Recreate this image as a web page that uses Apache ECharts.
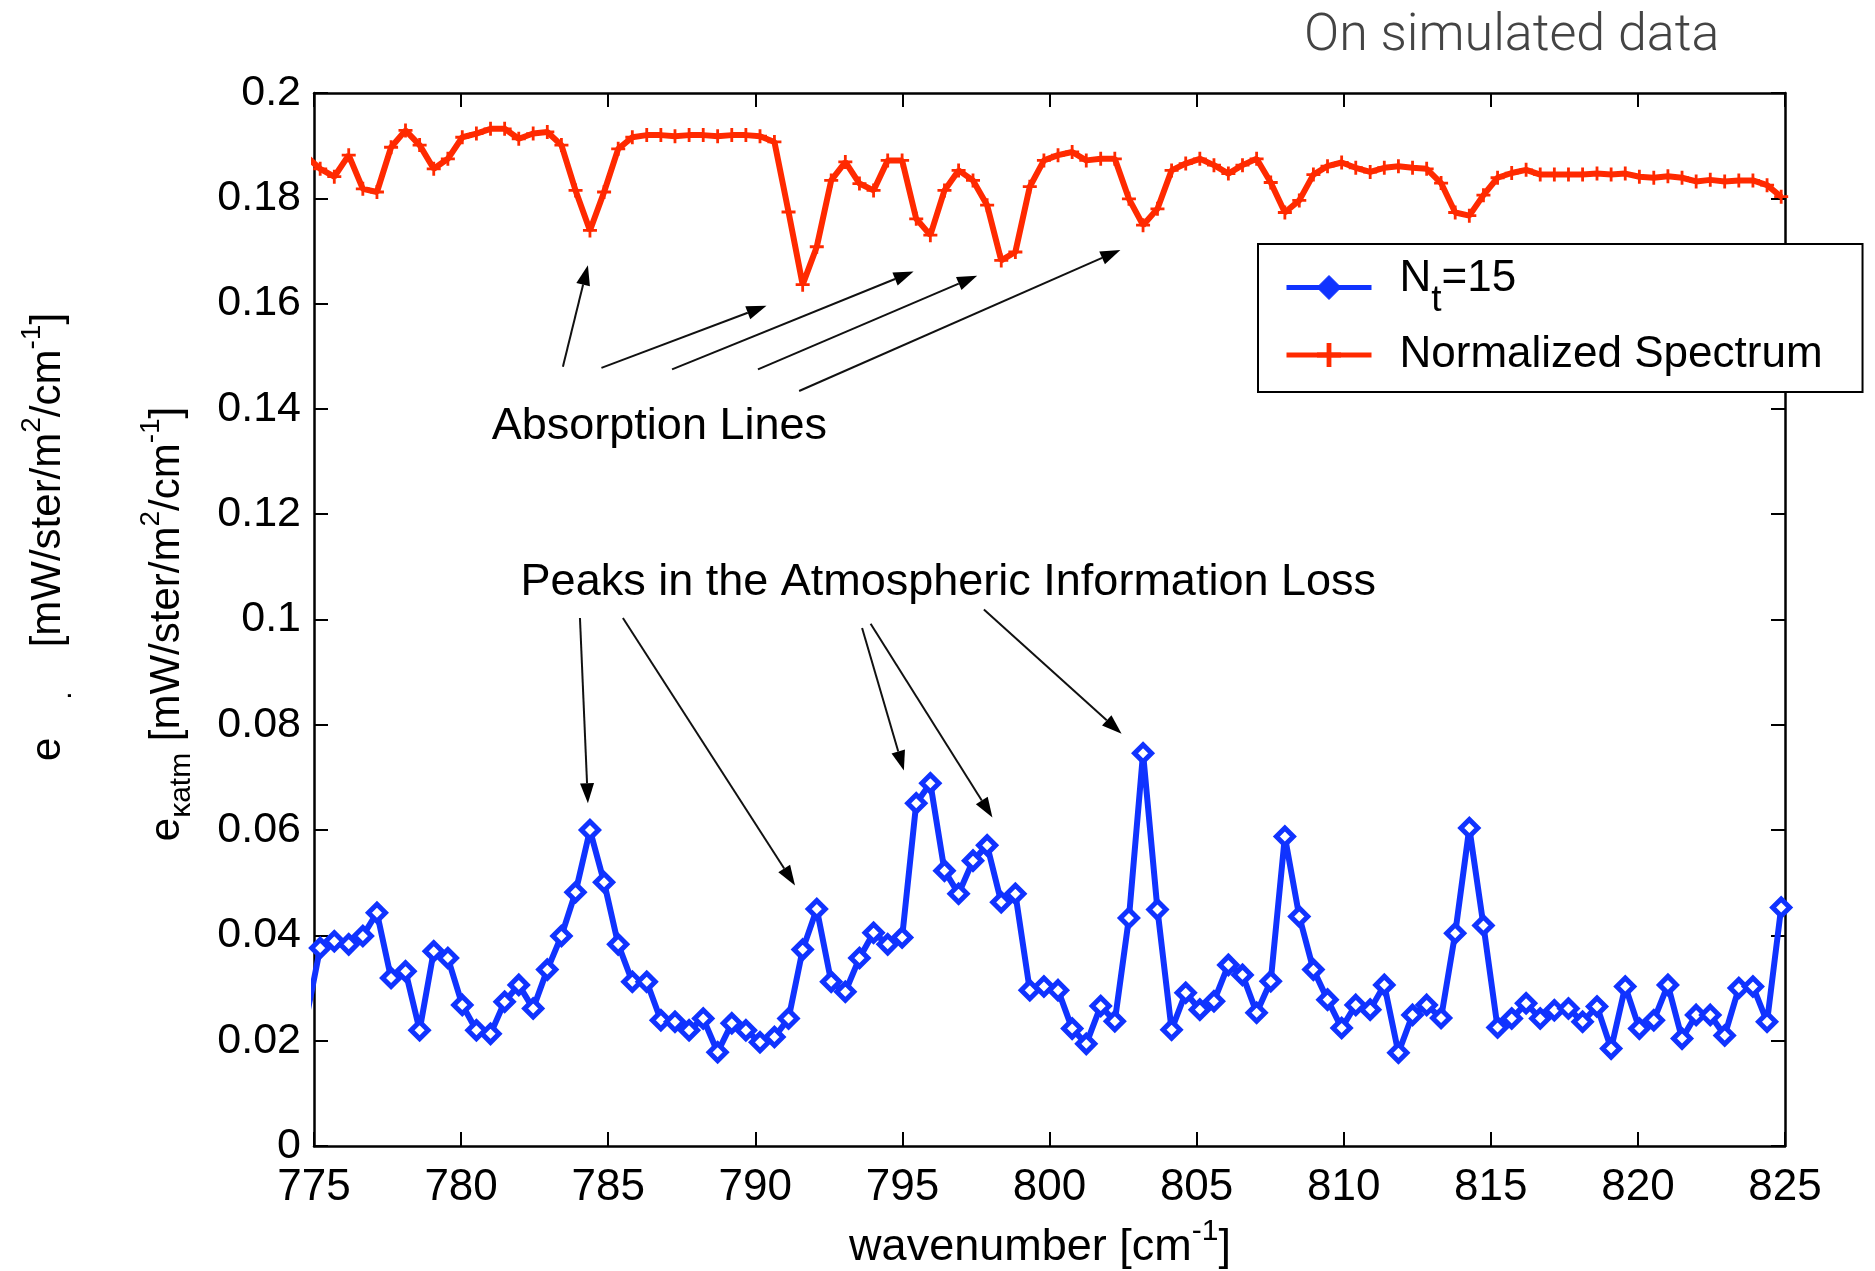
<!DOCTYPE html>
<html><head><meta charset="utf-8">
<script src="https://cdn.jsdelivr.net/npm/echarts@6/dist/echarts.min.js"></script>
<style>html,body{margin:0;padding:0;background:#fff}#c{width:1875px;height:1271px}</style>
</head><body><div id="c"></div>
<script>
// ---------- data ----------
const wavenumber = [
774.73,775.21,775.69,776.18,776.66,777.14,777.62,778.11,778.59,779.07,
779.55,780.04,780.52,781.00,781.48,781.96,782.45,782.93,783.41,783.89,
784.38,784.86,785.34,785.82,786.31,786.79,787.27,787.75,788.23,788.72,
789.20,789.68,790.16,790.65,791.13,791.61,792.09,792.58,793.06,793.54,
794.02,794.50,794.99,795.47,795.95,796.43,796.91,797.40,797.88,798.36,
798.84,799.33,799.81,800.29,800.77,801.25,801.74,802.22,802.70,803.18,
803.67,804.15,804.63,805.11,805.59,806.08,806.56,807.04,807.52,808.00,
808.49,808.97,809.45,809.93,810.41,810.90,811.38,811.86,812.34,812.82,
813.31,813.79,814.27,814.75,815.23,815.71,816.20,816.68,817.16,817.64,
818.12,818.61,819.09,819.57,820.05,820.54,821.02,821.50,821.98,822.46,
822.95,823.43,823.91,824.39,824.87];

const infoLossNt15 = [
0.0240,0.0376,0.0389,0.0383,0.0399,0.0443,0.0319,0.0332,0.0220,0.0370,
0.0357,0.0268,0.0220,0.0213,0.0274,0.0306,0.0261,0.0335,0.0399,0.0482,
0.0600,0.0501,0.0383,0.0312,0.0312,0.0239,0.0236,0.0220,0.0242,0.0178,
0.0233,0.0220,0.0197,0.0207,0.0242,0.0373,0.0450,0.0312,0.0293,0.0357,
0.0405,0.0383,0.0396,0.0651,0.0689,0.0523,0.0479,0.0542,0.0571,0.0463,
0.0479,0.0296,0.0303,0.0296,0.0223,0.0194,0.0266,0.0237,0.0433,0.0746,
0.0449,0.0221,0.0291,0.0259,0.0275,0.0344,0.0325,0.0253,0.0313,0.0588,
0.0436,0.0335,0.0278,0.0224,0.0268,0.0259,0.0306,0.0177,0.0249,0.0268,
0.0243,0.0404,0.0604,0.0419,0.0225,0.0242,0.0271,0.0242,0.0258,0.0261,
0.0236,0.0265,0.0185,0.0303,0.0223,0.0239,0.0306,0.0204,0.0249,0.0249,
0.0210,0.0300,0.0303,0.0236,0.0453];

const normalizedSpectrum = [
0.1880,0.1856,0.1841,0.1882,0.1818,0.1812,0.1897,0.1929,0.1901,0.1856,
0.1875,0.1916,0.1923,0.1932,0.1932,0.1913,0.1923,0.1926,0.1901,0.1815,
0.1739,0.1812,0.1894,0.1916,0.1920,0.1920,0.1918,0.1920,0.1920,0.1918,
0.1920,0.1920,0.1918,0.1907,0.1774,0.1636,0.1708,0.1834,0.1869,0.1828,
0.1815,0.1872,0.1872,0.1761,0.1730,0.1815,0.1853,0.1834,0.1787,0.1682,
0.1698,0.1822,0.1872,0.1882,0.1888,0.1872,0.1875,0.1875,0.1799,0.1749,
0.1780,0.1853,0.1866,0.1875,0.1863,0.1847,0.1863,0.1875,0.1830,0.1773,
0.1796,0.1845,0.1861,0.1868,0.1858,0.1850,0.1858,0.1861,0.1858,0.1856,
0.1829,0.1773,0.1767,0.1806,0.1839,0.1848,0.1854,0.1845,0.1845,0.1845,
0.1845,0.1847,0.1845,0.1847,0.1841,0.1839,0.1842,0.1839,0.1832,0.1835,
0.1832,0.1834,0.1834,0.1825,0.1803];

const seriesNames = ['N_t=15', 'Normalized Spectrum'];

// annotation arrows in data coordinates: [from, to]
const absorptionArrows = [
  [[783.46,0.1480],[784.31,0.1673]],
  [[784.77,0.1478],[790.38,0.1596]],
  [[787.17,0.1475],[795.38,0.1661]],
  [[790.09,0.1475],[797.54,0.1653]],
  [[791.49,0.1434],[802.41,0.1702]]
];
const peakArrows = [
  [[784.04,0.1003],[784.31,0.0651]],
  [[785.50,0.1003],[791.35,0.0495]],
  [[793.63,0.0984],[795.05,0.0713]],
  [[793.92,0.0992],[798.06,0.0624]],
  [[797.77,0.1019],[802.45,0.0783]]
];
const annotationLabels = [
  {text:'Absorption Lines', at:[786.74,0.1366]},
  {text:'Peaks in the Atmospheric Information Loss', at:[796.56,0.1071]}
];

// ---------- chart ----------
const F = 'Liberation Sans';
const BLUE = '#1033ff', RED = '#ff2a00';
const chart = echarts.init(document.getElementById('c'), null, {renderer:'canvas'});

const axisCommon = {
  type:'value', axisLine:{show:true, onZero:false, lineStyle:{color:'#000', width:2.5}},
  axisTick:{show:true, inside:true, length:14, lineStyle:{color:'#000', width:2}},
  splitLine:{show:false}
};
const yFmt = v => String(Number(v.toFixed(2)));

const option = {
  animation:false,
  backgroundColor:'#fff',
  title:{text:'On simulated data', left:1299, top:6,
    textStyle:{fontFamily:'Roboto', fontWeight:300, fontSize:52, color:'#444'}},
  grid:{left:314, top:93, width:1471, height:1053},
  xAxis:[
    Object.assign({}, axisCommon, {position:'bottom', min:775, max:825, interval:5,
      axisLabel:{fontFamily:F, fontSize:44, color:'#000', margin:20}}),
    Object.assign({}, axisCommon, {position:'top', min:775, max:825, interval:5, axisLabel:{show:false}})
  ],
  yAxis:[
    Object.assign({}, axisCommon, {position:'left', min:0, max:0.2, interval:0.02,
      axisLabel:{fontFamily:F, fontSize:43, color:'#000', margin:13, formatter:yFmt}}),
    Object.assign({}, axisCommon, {position:'right', min:0, max:0.2, interval:0.02, axisLabel:{show:false}})
  ],
  legend:{
    orient:'vertical', left:1258, top:244, selectedMode:false,
    backgroundColor:'#fff', borderColor:'#000', borderWidth:2, borderRadius:0,
    padding:[12,40,15,26], itemWidth:85, itemHeight:30, itemGap:14,
    data:[
      {name:seriesNames[0], itemStyle:{color:BLUE, borderColor:BLUE, borderWidth:1}, lineStyle:{color:BLUE, width:5}},
      {name:seriesNames[1], lineStyle:{color:RED, width:5}}
    ],
    formatter: name => name === seriesNames[0]
      ? '{g| }{n|N}{s|t}{n|=15}'
      : '{g| }{n2|Normalized Spectrum}',
    textStyle:{fontFamily:F, fontSize:44, color:'#000', rich:{
      g:{width:23, fontSize:10},
      n:{fontFamily:F, fontSize:44, color:'#000', lineHeight:47, padding:[0,0,18,0]},
      s:{fontFamily:F, fontSize:37, color:'#000', lineHeight:40, padding:[26,0,0,0]},
      n2:{fontFamily:F, fontSize:44, color:'#000', lineHeight:47}
    }}
  },
  series:[
    {name:seriesNames[0], type:'line', xAxisIndex:0, yAxisIndex:0,
     data: wavenumber.map((w,i)=>[w, infoLossNt15[i]]),
     symbol:'diamond', symbolSize:17, showAllSymbol:true, clip:true,
     lineStyle:{color:BLUE, width:6},
     itemStyle:{color:'#fff', borderColor:BLUE, borderWidth:5}, z:3},
    {name:seriesNames[1], type:'line', xAxisIndex:0, yAxisIndex:0,
     data: wavenumber.map((w,i)=>[w, normalizedSpectrum[i]]),
     symbol:'path://M4,0H6V4H10V6H6V10H4V6H0V4H4Z', symbolSize:14, showAllSymbol:true, clip:true,
     lineStyle:{color:RED, width:6},
     itemStyle:{color:RED}, z:2}
  ]
};
chart.setOption(option);

// ---------- annotations ----------
const richY = {
  m:{fontFamily:F, fontSize:42, color:'#000', lineHeight:48},
  s:{fontFamily:F, fontSize:30, color:'#000', lineHeight:32, padding:[30,0,0,0]},
  p:{fontFamily:F, fontSize:28, color:'#000', lineHeight:30, padding:[0,0,32,0]},
  gap1:{width:38, fontSize:10}, gap2:{width:44, fontSize:10}
};
const richX = {
  m:{fontFamily:F, fontSize:45, color:'#000', lineHeight:50},
  p:{fontFamily:F, fontSize:30, color:'#000', lineHeight:32, padding:[0,0,32,0]}
};

function toPx(p){ return chart.convertToPixel({gridIndex:0}, p); }
function arrow(p0, p1){
  const a = toPx(p0), b = toPx(p1);
  const dx=b[0]-a[0], dy=b[1]-a[1], L=Math.hypot(dx,dy), ux=dx/L, uy=dy/L;
  const hl=20, hw=7;
  const bx=b[0]-ux*hl, by=b[1]-uy*hl;
  return [
    {type:'line', shape:{x1:a[0],y1:a[1],x2:bx,y2:by}, style:{stroke:'#111', lineWidth:2}, z:10},
    {type:'polygon', shape:{points:[[b[0],b[1]],[bx-uy*hw,by+ux*hw],[bx+uy*hw,by-ux*hw]]}, style:{fill:'#000'}, z:10}
  ];
}
const g = [];
absorptionArrows.concat(peakArrows).forEach(a => g.push(...arrow(a[0], a[1])));
annotationLabels.forEach(l => {
  const p = toPx(l.at);
  g.push({type:'text', x:p[0], y:p[1], z:10,
    style:{text:l.text, fontFamily:F, fontSize:45, fill:'#000', align:'center', verticalAlign:'middle'}});
});
// y axis labels (rotated)
g.push({type:'text', x:167, y:624, rotation:Math.PI/2, z:10,
  style:{text:'{m|e}{s|κatm}{m| [mW/ster/m}{p|2}{m|/cm}{p|-1}{m|]}', rich:richY, align:'center', verticalAlign:'middle'}});
g.push({type:'text', x:48, y:537, rotation:Math.PI/2, z:10,
  style:{text:'{m|e}{gap1| }{s|.}{gap2| }{m|[mW/ster/m}{p|2}{m|/cm}{p|-1}{m|]}', rich:richY, align:'center', verticalAlign:'middle'}});
// x axis label
g.push({type:'text', x:1040, y:1248, z:10,
  style:{text:'{m|wavenumber [cm}{p|-1}{m|]}', rich:richX, align:'center', verticalAlign:'middle'}});

chart.setOption({graphic:g});
</script></body></html>
